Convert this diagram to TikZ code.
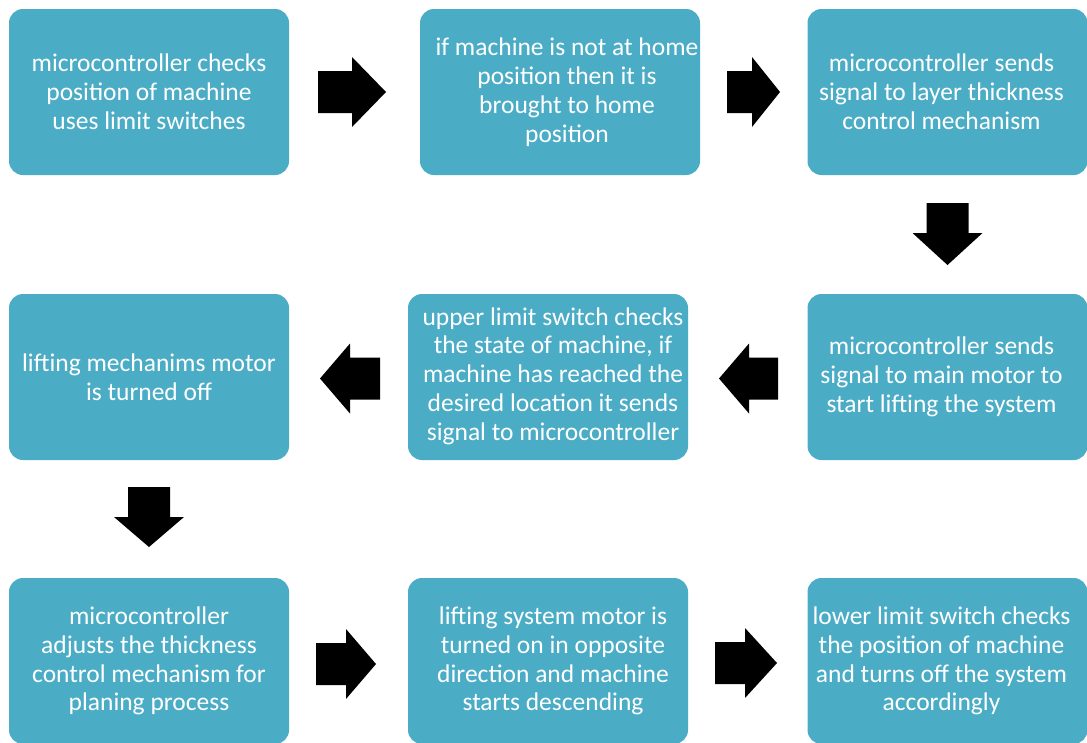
\documentclass[tikz,border=0pt]{standalone}
\usepackage{fontspec}
\setmainfont{Carlito}
\definecolor{teal1}{RGB}{75,172,198}
\begin{document}
\begin{tikzpicture}[x=1pt,y=-1pt,
  stepbox/.style={rectangle, rounded corners=14pt, fill=teal1, draw=none,
    minimum width=280pt, minimum height=166pt, inner sep=0pt},
  steptext/.style={text=white, align=center, inner sep=0pt,
    font=\fontsize{25.5}{28.8}\selectfont},
  pics/barrow/.style 2 args={code={
    \fill[black] ({-0.5*#1},-21) -- ({0.5*#1-#2},-21) -- ({0.5*#1-#2},-35)
      -- ({0.5*#1},0) -- ({0.5*#1-#2},35) -- ({0.5*#1-#2},21) -- ({-0.5*#1},21) -- cycle;
  }}]
\useasboundingbox (0,0) rectangle (1087,742);
\clip (0,0) rectangle (1087,742);
\node[stepbox] (b1) at (149,92) {};
\node[stepbox] (b2) at (560,92) {};
\node[stepbox] (b3) at (947.5,92) {};
\node[stepbox] (b4) at (149,377) {};
\node[stepbox] (b5) at (548,377) {};
\node[stepbox] (b6) at (947.5,377) {};
\node[stepbox] (b7) at (149,661) {};
\node[stepbox] (b8) at (548,661) {};
\node[stepbox] (b9) at (947.5,661) {};
\node[steptext] (t1) at (b1.center) {microcontroller checks\\position of machine\\uses limit switches};
\node[steptext] (t2) at ([xshift=7pt]b2.center) {if machine is not at home\\position then it is\\brought to home\\position};
\node[steptext] (t3) at ([xshift=-6pt]b3.center) {microcontroller sends\\signal to layer thickness\\control mechanism};
\node[steptext] (t4) at (b4.center) {lifting mechanims motor\\is turned off};
\node[steptext] (t5) at ([xshift=5pt,yshift=1pt]b5.center) {upper limit switch checks\\the state of machine, if\\machine has reached the\\desired location it sends\\signal to microcontroller};
\node[steptext] (t6) at ([xshift=-6pt]b6.center) {microcontroller sends\\signal to main motor to\\start lifting the system};
\node[steptext] (t7) at (b7.center) {microcontroller\\adjusts the thickness\\control mechanism for\\planing process};
\node[steptext] (t8) at ([xshift=5pt]b8.center) {lifting system motor is\\turned on in opposite\\direction and machine\\starts descending};
\node[steptext] (t9) at ([xshift=-6pt]b9.center) {lower limit switch checks\\the position of machine\\and turns off the system\\accordingly};
% block arrows
\pic at (352,92) {barrow={68}{34}};
\pic at (753.5,92) {barrow={53}{28}};
\pic[rotate=-90] at (947.5,234) {barrow={62}{32}};
\pic[rotate=180] at (748.5,378.5) {barrow={59}{30}};
\pic[rotate=180] at (350,378.5) {barrow={60}{30}};
\pic[rotate=-90] at (149,517) {barrow={60}{30}};
\pic at (346,664) {barrow={60}{30}};
\pic at (746,663) {barrow={62}{32}};
\end{tikzpicture}
\end{document}
